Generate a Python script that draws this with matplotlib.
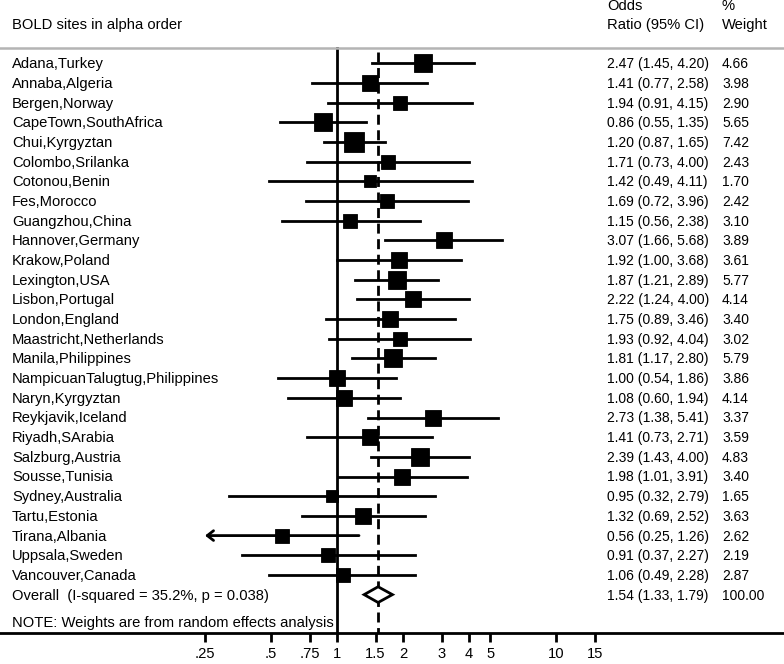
#forest plot, BOLD sites odds ratios

import numpy as np
import matplotlib.pyplot as plt
from matplotlib.transforms import blended_transform_factory
from matplotlib.ticker import NullLocator

plt.rcParams['font.family'] = ['Liberation Sans', 'DejaVu Sans']

sites = ["Adana,Turkey", "Annaba,Algeria", "Bergen,Norway", "CapeTown,SouthAfrica",
         "Chui,Kyrgyztan", "Colombo,Srilanka", "Cotonou,Benin", "Fes,Morocco",
         "Guangzhou,China", "Hannover,Germany", "Krakow,Poland", "Lexington,USA",
         "Lisbon,Portugal", "London,England", "Maastricht,Netherlands",
         "Manila,Philippines", "NampicuanTalugtug,Philippines", "Naryn,Kyrgyztan",
         "Reykjavik,Iceland", "Riyadh,SArabia", "Salzburg,Austria", "Sousse,Tunisia",
         "Sydney,Australia", "Tartu,Estonia", "Tirana,Albania", "Uppsala,Sweden",
         "Vancouver,Canada"]
odds = [2.47, 1.41, 1.94, 0.86, 1.20, 1.71, 1.42, 1.69, 1.15, 3.07, 1.92, 1.87, 2.22,
        1.75, 1.93, 1.81, 1.00, 1.08, 2.73, 1.41, 2.39, 1.98, 0.95, 1.32, 0.56, 0.91, 1.06]
ci_lo = [1.45, 0.77, 0.91, 0.55, 0.87, 0.73, 0.49, 0.72, 0.56, 1.66, 1.00, 1.21, 1.24,
         0.89, 0.92, 1.17, 0.54, 0.60, 1.38, 0.73, 1.43, 1.01, 0.32, 0.69, 0.25, 0.37, 0.49]
ci_hi = [4.20, 2.58, 4.15, 1.35, 1.65, 4.00, 4.11, 3.96, 2.38, 5.68, 3.68, 2.89, 4.00,
         3.46, 4.04, 2.80, 1.86, 1.94, 5.41, 2.71, 4.00, 3.91, 2.79, 2.52, 1.26, 2.27, 2.28]
weights = [4.66, 3.98, 2.90, 5.65, 7.42, 2.43, 1.70, 2.42, 3.10, 3.89, 3.61, 5.77, 4.14,
           3.40, 3.02, 5.79, 3.86, 4.14, 3.37, 3.59, 4.83, 3.40, 1.65, 3.63, 2.62, 2.19, 2.87]

overall_or = 1.54
overall_lo = 1.33
overall_hi = 1.79
overall_wt = 100.00
i_squared = 35.2
p_het = 0.038

ticks = [0.25, 0.5, 0.75, 1, 1.5, 2, 3, 4, 5, 10, 15]
tick_labels = ['.25', '.5', '.75', '1', '1.5', '2', '3', '4', '5', '10', '15']
x_clip = 0.25   # CIs reaching this get an arrow

FS = 10      # numbers
FS_L = 10.6  # site labels
LW = 2.0

fig = plt.figure(figsize=(7.84, 6.64), dpi=100)
ax = fig.add_axes([0, 31 / 664, 1, 633 / 664])
ax.set_xscale('log')
# OR=1 sits at 337px, ~95.2px per log unit
ax.set_xlim(np.exp(-337 / 95.2), np.exp((784 - 337) / 95.2))
ax.set_ylim(28.95, -3.216)

for s in ['top', 'left', 'right']:
    ax.spines[s].set_visible(False)
ax.spines['bottom'].set_linewidth(LW)
ax.set_yticks([])
ax.set_xticks(ticks)
ax.set_xticklabels(tick_labels, fontsize=FS_L)
ax.xaxis.set_minor_locator(NullLocator())
ax.tick_params(axis='x', length=6.5, width=LW, pad=3.5)

trans = blended_transform_factory(fig.transFigure, ax.transData)
n = len(sites)
rows = np.arange(n)
dy = 0.25  # baseline offset so caps sit centred on the row

# header
ax.axhline(-0.78, color='#b4b4b4', lw=1.8)
ax.text(12 / 784, -2.0 + dy, "BOLD sites in alpha order", transform=trans, fontsize=FS_L)
ax.text(607 / 784, -2.96 + dy, "Odds", transform=trans, fontsize=FS_L)
ax.text(607 / 784, -2.0 + dy, "Ratio (95% CI)", transform=trans, fontsize=FS_L)
ax.text(722 / 784, -2.96 + dy, "%", transform=trans, fontsize=FS_L)
ax.text(722 / 784, -2.0 + dy, "Weight", transform=trans, fontsize=FS_L)

# reference lines
ax.plot([1, 1], [-0.78, 28.95], color='black', lw=LW, zorder=1)
ax.plot([overall_or, overall_or], [-0.57, 28.95], color='black', lw=LW,
        dashes=(3.6, 2.0), zorder=1)

for i in rows:
    lo = max(ci_lo[i], x_clip)
    if ci_lo[i] <= x_clip:
        ax.annotate('', xy=(lo, i), xytext=(ci_hi[i], i),
                    arrowprops=dict(arrowstyle='->,head_length=0.45,head_width=0.35',
                                    lw=LW, color='black', shrinkA=0, shrinkB=0),
                    zorder=2)
    else:
        ax.plot([lo, ci_hi[i]], [i, i], color='black', lw=LW, zorder=2)
    ms = 0.72 * (4.0 + 6.1 * np.sqrt(weights[i]))
    ax.plot(odds[i], i, marker='s', ms=ms, color='black', mew=0.6, zorder=3)

    ax.text(12 / 784, i + dy, sites[i], transform=trans, fontsize=FS_L)
    ax.text(607 / 784, i + dy, f"{odds[i]:.2f} ({ci_lo[i]:.2f}, {ci_hi[i]:.2f})",
            transform=trans, fontsize=FS)
    ax.text(722 / 784, i + dy, f"{weights[i]:.2f}", transform=trans, fontsize=FS)

# overall diamond
yo = n
ax.fill([overall_lo, overall_or, overall_hi, overall_or],
        [yo, yo - 0.4, yo, yo + 0.4], facecolor='white', edgecolor='black',
        lw=LW, zorder=3)
ax.text(12 / 784, yo + dy, f"Overall  (I-squared = {i_squared}%, p = {p_het})",
        transform=trans, fontsize=FS_L)
ax.text(607 / 784, yo + dy, f"{overall_or:.2f} ({overall_lo:.2f}, {overall_hi:.2f})",
        transform=trans, fontsize=FS)
ax.text(722 / 784, yo + dy, f"{overall_wt:.2f}", transform=trans, fontsize=FS)

ax.text(12 / 784, 28.38 + dy, "NOTE: Weights are from random effects analysis",
        transform=trans, fontsize=FS_L)

fig.savefig("out.png", dpi=100)
